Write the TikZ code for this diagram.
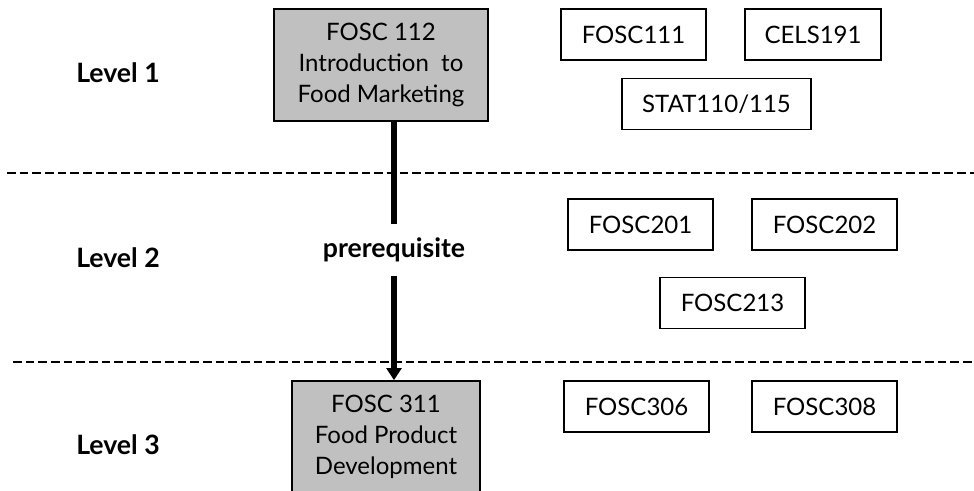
\documentclass[tikz,border=0pt]{standalone}
\usepackage{fontspec}
\setmainfont{Lato}
\usetikzlibrary{arrows.meta,calc}

\begin{document}
\begin{tikzpicture}[x=0.75pt,y=-0.75pt,
  course/.style={draw=black,line width=1.2pt,minimum width=#1*0.75pt,minimum height=38pt,
    inner sep=0pt,font=\fontsize{18}{23}\selectfont},
  course/.default=145,
  corebox/.style={draw=black,line width=1.2pt,fill=corefill,inner sep=0pt,
    minimum width=#1*0.75pt,minimum height=84pt,align=center,
    font=\fontsize{18}{23.5}\selectfont},
  levellabel/.style={font=\bfseries\fontsize{20}{22}\selectfont,anchor=west,inner sep=0pt},
  levelline/.style={line width=1.5pt,dash pattern=on 6.5pt off 3pt},
  prereq/.style={line width=3.8pt}]
\definecolor{corefill}{RGB}{192,192,192}
\useasboundingbox (0,0) rectangle (974,491);

% level separators
\coordinate (s1a) at (7,173);   \coordinate (s1b) at (974,173);
\coordinate (s2a) at (13,362);  \coordinate (s2b) at (974,362);
\draw[levelline] (s1a) -- (s1b);
\draw[levelline] (s2a) -- (s2b);

% level labels
\node[levellabel] (l1) at (76,73)  {Level 1};
\node[levellabel] (l2) at (76,258) {Level 2};
\node[levellabel] (l3) at (76,445) {Level 3};

% core courses
\node[corebox=214] (f112) at (381,65) {FOSC 112\\Introduction\ \ to\\Food Marketing};
\node[corebox=188] (f311) at (386,437) {FOSC 311\\Food Product\\Development};

% other courses
\node[course] (f111) at (633.5,34.5) {FOSC111};
\node[course=136] (c191) at (813,34.5) {CELS191};
\node[course=189] (s110) at (716.5,104) {STAT110/115};
\node[course] (f201) at (640.5,224.5) {FOSC201};
\node[course] (f202) at (824.5,224.5) {FOSC202};
\node[course] (f213) at (732.5,303) {FOSC213};
\node[course] (f306) at (636.5,406.5) {FOSC306};
\node[course] (f308) at (824.5,406.5) {FOSC308};

% prerequisite link
\node[font=\bfseries\fontsize{20}{22}\selectfont,minimum height=38pt,inner sep=0pt] (pre) at (394,250) {prerequisite};
\draw[prereq] (f112.south -| pre) -- (pre.north);
\draw[prereq,-{Triangle[width=11pt,length=9pt]}] (pre.south) -- (f311.north -| pre);
\end{tikzpicture}
\end{document}
